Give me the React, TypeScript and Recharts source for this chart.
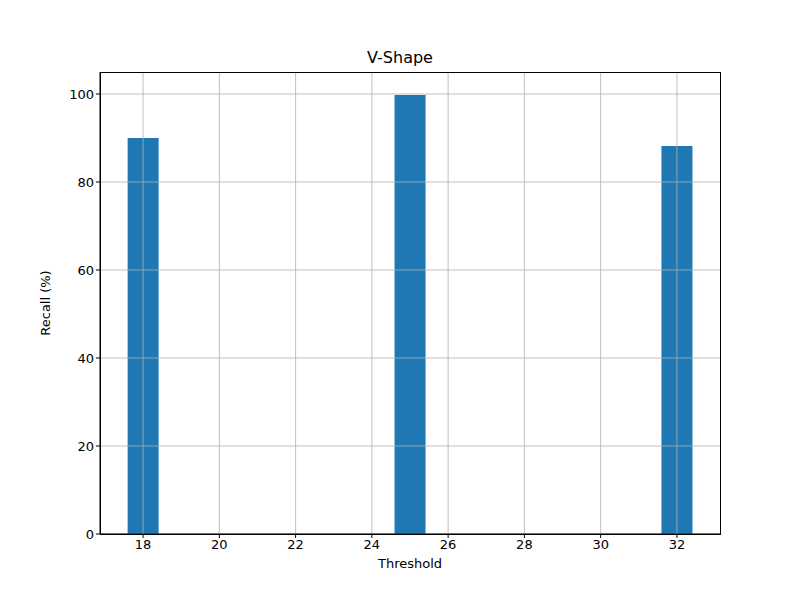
import React from "react";
import { ComposedChart, Bar, XAxis, YAxis, ReferenceLine, Label } from "recharts";

const thresholds = [18, 25, 32];
const recall = [90.0, 99.8, 88.2];
const xTicks = [18, 20, 22, 24, 26, 28, 30, 32];
const yTicks = [0, 20, 40, 60, 80, 100];

const data = thresholds.map((t, i) => ({ t, r: recall[i] }));
const font = "DejaVu Sans, sans-serif";

export default function App() {
  return (
    <div style={{ position: "absolute", left: 0, top: 0, width: 800, height: 600, background: "#fff", fontFamily: font }}>
      <div style={{ position: "absolute", top: 48, width: 800, textAlign: "center", fontSize: 16, fontFamily: font }}>V-Shape</div>
      <ComposedChart width={800} height={600} data={data} margin={{ top: 72, right: 80, bottom: 36, left: 50 }}>
        <XAxis dataKey="t" type="number" domain={[16.87, 33.13]} ticks={xTicks} allowDataOverflow
          height={30} tick={{ fill: "#000", fontSize: 13, fontFamily: font }} stroke="#000" tickSize={4}>
          <Label value="Threshold" position="insideBottom" offset={-4} style={{ fill: "#000", fontSize: 13, fontFamily: font }} />
        </XAxis>
        <YAxis type="number" domain={[0, 105]} ticks={yTicks} allowDataOverflow width={50}
          tick={{ fill: "#000", fontSize: 13, fontFamily: font }} stroke="#000" tickSize={4}>
          <Label value="Recall (%)" angle={-90} position="insideLeft" offset={-5} style={{ fill: "#000", fontSize: 13, fontFamily: font, textAnchor: "middle" }} />
        </YAxis>
        <Bar dataKey="r" fill="#1f77b4" barSize={31} isAnimationActive={false} />
        {xTicks.map((x) => (
          <ReferenceLine key={"x" + x} x={x} stroke="#b0b0b0" strokeWidth={0.8} />
        ))}
        {yTicks.map((y) => (
          <ReferenceLine key={"y" + y} y={y} stroke="#b0b0b0" strokeWidth={0.8} />
        ))}
      </ComposedChart>
      <div style={{ position: "absolute", left: 100, top: 72, width: 619, height: 461, border: "1px solid #000", pointerEvents: "none" }} />
    </div>
  );
}
